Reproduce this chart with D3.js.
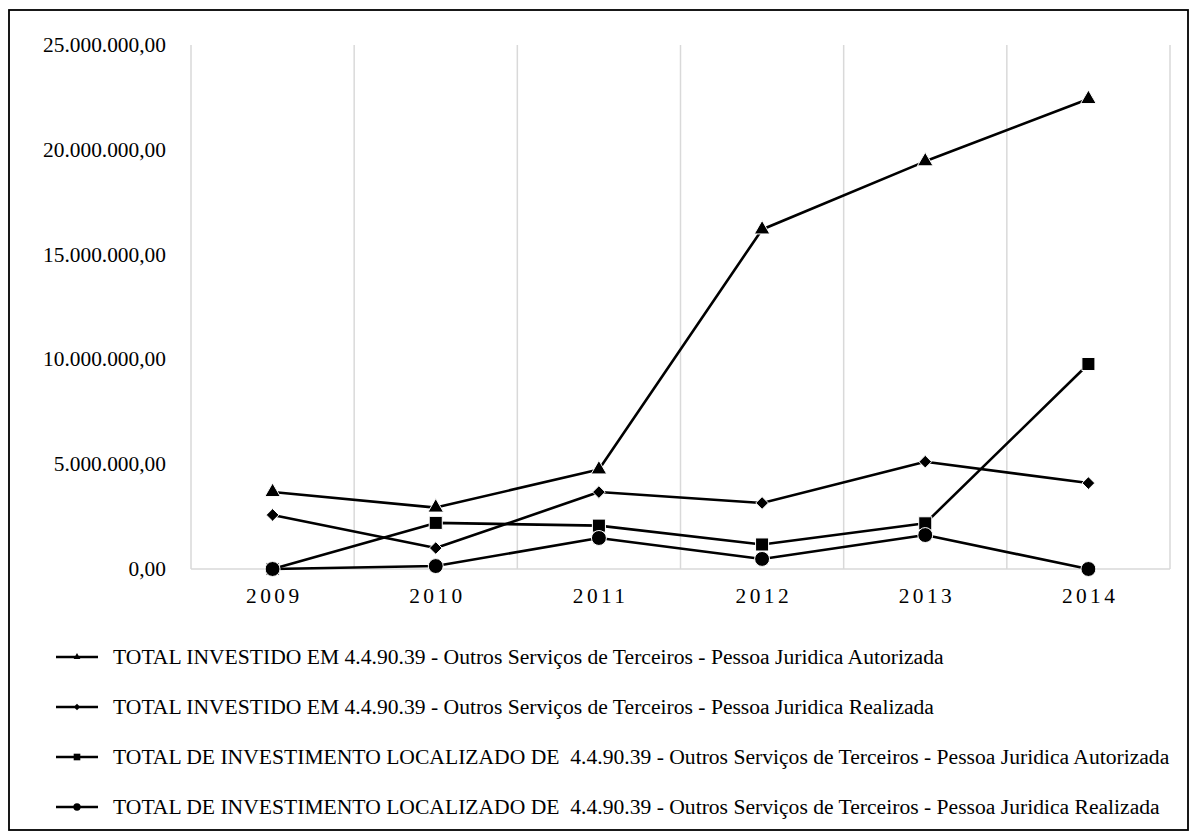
<!DOCTYPE html>
<html>
<head>
<meta charset="utf-8">
<script src="https://cdn.jsdelivr.net/npm/d3@7"></script>
<style>
  html, body { margin: 0; padding: 0; background: #fff; }
  svg { display: block; }
  text { font-family: "Liberation Serif", "Times New Roman", serif; fill: #000; }
</style>
</head>
<body>
<svg id="chart" width="1197" height="839"></svg>
<script>
const years = ["2009", "2010", "2011", "2012", "2013", "2014"];
const yTicks = [0, 5000000, 10000000, 15000000, 20000000, 25000000];
const investidoAutorizada = [3670000, 2930000, 4750000, 16200000, 19450000, 22420000];
const investidoRealizada = [2580000, 1000000, 3670000, 3150000, 5120000, 4100000];
const localizadoAutorizada = [0, 2200000, 2070000, 1170000, 2180000, 9780000];
const localizadoRealizada = [0, 140000, 1480000, 480000, 1620000, 0];
const seriesNames = [
  "TOTAL INVESTIDO EM 4.4.90.39 - Outros Serviços de Terceiros - Pessoa Juridica Autorizada",
  "TOTAL INVESTIDO EM 4.4.90.39 - Outros Serviços de Terceiros - Pessoa Juridica Realizada",
  "TOTAL DE INVESTIMENTO LOCALIZADO DE  4.4.90.39 - Outros Serviços de Terceiros - Pessoa Juridica Autorizada",
  "TOTAL DE INVESTIMENTO LOCALIZADO DE  4.4.90.39 - Outros Serviços de Terceiros - Pessoa Juridica Realizada"
];

(function () {
const FONT = "Liberation Serif";
const diamond = { draw(ctx, size) { const r = Math.sqrt(size / 2); ctx.moveTo(0, -r); ctx.lineTo(r, 0); ctx.lineTo(0, r); ctx.lineTo(-r, 0); ctx.closePath(); } };
const series = [
  { name: seriesNames[0], values: investidoAutorizada, symbol: d3.symbolTriangle, size: 105, lsize: 20 },
  { name: seriesNames[1], values: investidoRealizada, symbol: diamond, size: 80, lsize: 20 },
  { name: seriesNames[2], values: localizadoAutorizada, symbol: d3.symbolSquare, size: 170, lsize: 44 },
  { name: seriesNames[3], values: localizadoRealizada, symbol: d3.symbolCircle, size: 175, lsize: 42 }
];

const svg = d3.select("#chart");

svg.append("rect").attr("x", 9).attr("y", 10).attr("width", 1179).attr("height", 820)
  .attr("fill", "#fff").attr("stroke", "#000").attr("stroke-width", 1.8);

const pLeft = 191, pRight = 1170, pTop = 45, pBottom = 569;

const x = d3.scaleBand().domain(years).range([pLeft, pRight]).padding(0);
const y = d3.scaleLinear().domain([0, 25000000]).range([pBottom, pTop]);

const bounds = years.map(d => x(d)).concat([pRight]);
svg.append("g").selectAll("line").data(bounds).join("line")
  .attr("x1", d => d).attr("x2", d => d)
  .attr("y1", pTop).attr("y2", pBottom)
  .attr("stroke", "#d9d9d9").attr("stroke-width", 1.5);

svg.append("line").attr("x1", pLeft).attr("x2", pRight).attr("y1", pBottom).attr("y2", pBottom)
  .attr("stroke", "#d9d9d9").attr("stroke-width", 1.5);

const fmt = v => d3.format(",.2f")(v).replace(/,/g, "#").replace(/\./g, ",").replace(/#/g, ".");
const yAxis = d3.axisLeft(y).tickValues(yTicks).tickSize(0).tickPadding(0).tickFormat(fmt);
const ya = svg.append("g").attr("transform", "translate(166,0)").call(yAxis);
ya.select(".domain").remove();
ya.attr("font-family", FONT);
ya.selectAll("text").attr("font-family", FONT).attr("font-size", 21.4).attr("fill", "#000").attr("dy", "0.3em");

const xAxis = d3.axisBottom(x).tickSize(0).tickPadding(0);
const xa = svg.append("g").attr("transform", `translate(0,${pBottom})`).call(xAxis);
xa.select(".domain").remove();
xa.attr("font-family", FONT);
xa.selectAll("text").attr("font-family", FONT).attr("font-size", 21.4)
  .attr("fill", "#000").attr("letter-spacing", "3.4px").attr("dx", "1.7px").attr("dy", "0").attr("y", 34);

const line = d3.line().x((d, i) => x(years[i]) + x.bandwidth() / 2).y(d => y(d));
const g = svg.append("g");
series.forEach(s => {
  g.append("path").attr("d", line(s.values)).attr("fill", "none")
    .attr("stroke", "#000").attr("stroke-width", 2.6).attr("stroke-linejoin", "round");
});
series.forEach(s => {
  g.append("g").selectAll("path").data(s.values).join("path")
    .attr("transform", (d, i) => `translate(${x(years[i]) + x.bandwidth() / 2},${y(d)})`)
    .attr("d", d3.symbol().type(s.symbol).size(s.size))
    .attr("fill", "#000").attr("stroke", "#fff").attr("stroke-width", 1);
});

const legY = d3.scalePoint().domain(d3.range(series.length)).range([657, 807]);
const leg = svg.append("g");
series.forEach((s, i) => {
  const cy = legY(i);
  leg.append("line").attr("x1", 56).attr("x2", 98).attr("y1", cy).attr("y2", cy)
    .attr("stroke", "#000").attr("stroke-width", 2.4);
  leg.append("path").attr("transform", `translate(77,${cy})`)
    .attr("d", d3.symbol().type(s.symbol).size(s.lsize)).attr("fill", "#000");
  leg.append("text").attr("x", 113).attr("y", cy).attr("dy", "0.33em")
    .attr("font-family", FONT).attr("font-size", 21.6).style("white-space", "pre").text(s.name);
});
})();
</script>
</body>
</html>
